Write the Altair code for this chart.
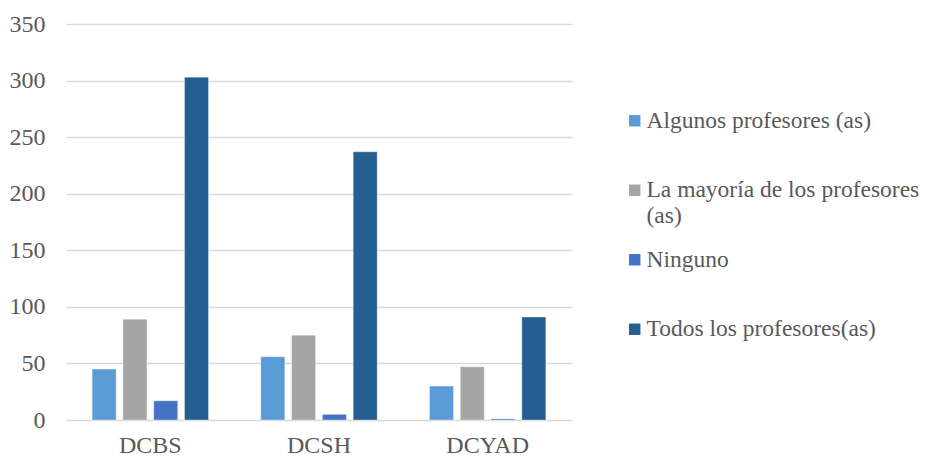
import altair as alt
import pandas as pd

categories = ["DCBS", "DCSH", "DCYAD"]
series = [
    "Algunos profesores (as)",
    "La mayoría de los profesores (as)",
    "Ninguno",
    "Todos los profesores(as)",
]
values = {
    "Algunos profesores (as)": [45, 56, 30],
    "La mayoría de los profesores (as)": [89, 75, 47],
    "Ninguno": [17, 5, 1],
    "Todos los profesores(as)": [303, 237, 91],
}
colors = ["#5B9BD5", "#A5A5A5", "#4472C4", "#255E91"]
y_ticks = [0, 50, 100, 150, 200, 250, 300, 350]

rows = []
for s in series:
    for c, v in zip(categories, values[s]):
        rows.append({"Categoria": c, "Serie": s, "Valor": v})
df = pd.DataFrame(rows)

FONT = "Liberation Serif"
TXT = "#595959"

label_expr = (
    "datum.label == 'La mayoría de los profesores (as)' ? "
    "['La mayoría de los profesores', '(as)'] : datum.label"
)

chart = (
    alt.Chart(df)
    .mark_bar(stroke="white", strokeWidth=0.6, strokeOpacity=0.6)
    .encode(
        x=alt.X(
            "Categoria:N",
            sort=categories,
            title=None,
            scale=alt.Scale(paddingInner=0.31, paddingOuter=0.155),
            axis=alt.Axis(
                labelAngle=0,
                labelFont=FONT,
                labelFontSize=24,
                labelColor=TXT,
                labelPadding=13,
                ticks=False,
                domain=False,
                grid=False,
            ),
        ),
        xOffset=alt.XOffset(
            "Serie:N",
            sort=series,
            scale=alt.Scale(paddingInner=0.22, paddingOuter=0),
        ),
        y=alt.Y(
            "Valor:Q",
            title=None,
            scale=alt.Scale(domain=[0, 350], nice=False),
            axis=alt.Axis(
                values=y_ticks,
                labelFont=FONT,
                labelFontSize=24,
                labelColor=TXT,
                labelPadding=21,
                ticks=False,
                domain=False,
                grid=True,
                gridColor="#D9D9D9",
                gridWidth=1.3,
            ),
        ),
        color=alt.Color(
            "Serie:N",
            sort=series,
            scale=alt.Scale(domain=series, range=colors),
            legend=alt.Legend(
                title=None,
                orient="none",
                legendX=557,
                legendY=85,
                symbolType="square",
                symbolSize=130,
                symbolStrokeWidth=0,
                labelFont=FONT,
                labelFontSize=23.5,
                labelColor=TXT,
                labelLimit=400,
                labelOffset=0,
                rowPadding=19.5,
                gridAlign="all",
                labelExpr=label_expr,
            ),
        ),
    )
    .properties(
        width=506,
        height=396,
        background="white",
        autosize=alt.AutoSizeParams(type="none"),
        padding={"left": 58, "top": 16, "right": 348, "bottom": 40},
    )
    .configure_view(strokeWidth=0, stroke="transparent")
)

chart.save("out.html", embed_options={"renderer": "svg", "actions": False})
